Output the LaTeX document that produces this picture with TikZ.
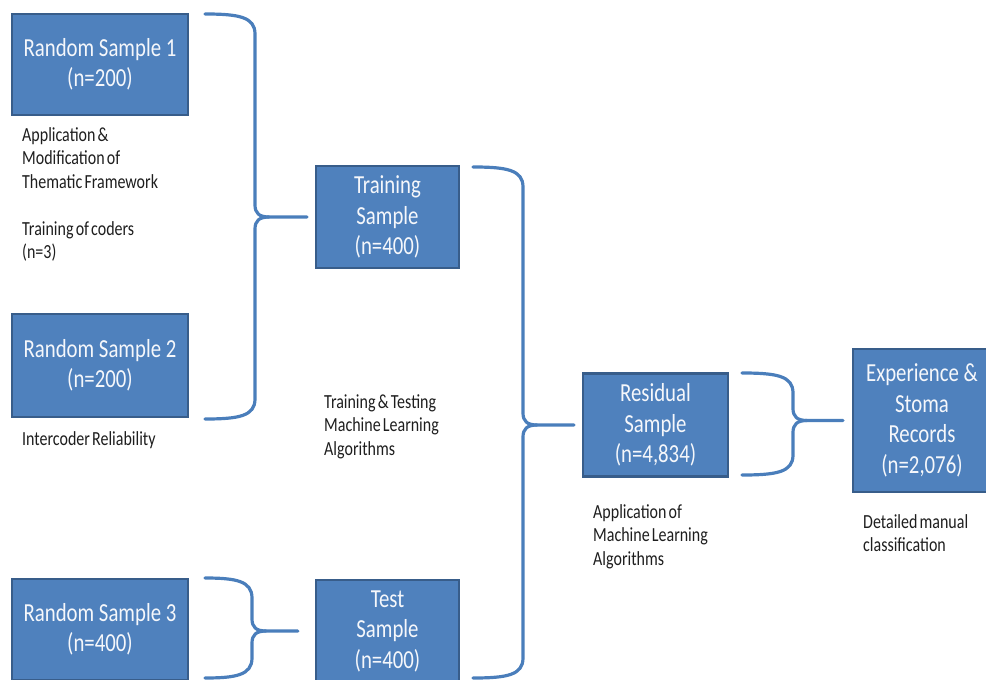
\documentclass[tikz,border=0pt]{standalone}
\usepackage{fontspec}
\setmainfont{Carlito}[FakeStretch=0.8]
\newfontfamily\notefont{Carlito}[FakeStretch=0.8,WordSpace=0.6]
\definecolor{boxfill}{HTML}{4F81BD}
\definecolor{boxedge}{HTML}{385D8A}
\definecolor{bracecol}{HTML}{4A7EBB}
\definecolor{notecol}{HTML}{1E1E1E}
% curly brace: #1 x of the free ends, #2 top y, #3 bottom y,
% #4 x of the spine, #5 y of the point, #6 coordinate the point reaches
\newcommand\curlyjoin[6]{%
  \draw[bracelink] (#1,#2) .. controls (#4-16,#2) and (#4,#2+3) .. (#4,#2+20)
    -- (#4,#5-12) .. controls (#4,#5-4) and (#4+4,#5) .. (#4+14,#5) -- (#6);
  \draw[bracelink] (#4+14,#5) .. controls (#4+4,#5) and (#4,#5+4) .. (#4,#5+12)
    -- (#4,#3-20) .. controls (#4,#3-3) and (#4-16,#3) .. (#1,#3);
}
\begin{document}
\begin{tikzpicture}[x=1pt,y=-1pt,
  sample/.style={draw=boxedge, fill=boxfill, line width=2.2pt,
    text=white!94!boxfill, align=center, inner sep=0pt,
    font=\fontsize{26}{30.5}\selectfont},
  % notes are placed by the baseline of their last line
  note/.style={anchor=base west, align=left, inner sep=0pt, text=notecol,
    font=\notefont\fontsize{20}{23.5}\selectfont},
  bracelink/.style={draw=bracecol, line width=3.2pt, line cap=round, line join=round}]
\useasboundingbox (0,0) rectangle (986,680);
\clip (0,0) rectangle (986,680);

% sample boxes
\node[sample, minimum width=176, minimum height=101] (rs1) at (100,64.5) {Random Sample 1\\(n=200)};
\node[sample, minimum width=176, minimum height=103] (rs2) at (100,365.5) {Random Sample 2\\(n=200)};
\node[sample, minimum width=176, minimum height=101] (rs3) at (100,629.5) {Random Sample 3\\(n=400)};
\node[sample, minimum width=143, minimum height=102] (train) at (387.5,217) {Training\\Sample\\(n=400)};
\node[sample, minimum width=143, minimum height=102] (test) at (387.5,631) {Test\\Sample\\(n=400)};
\node[sample, minimum width=145, minimum height=103] (resid) at (655.5,425) {Residual\\Sample\\(n=4,834)};
\node[sample, minimum width=138, minimum height=143] (exper) at (922,420.5) {Experience \&\\Stoma\\Records\\(n=2,076)};

% notes
\node[note] (n1) at (22,258.5) {Application \&\\Modification of\\Thematic Framework\\[23.5pt]Training of coders\\(n=3)};
\node[note] (n2) at (22,445) {Intercoder Reliability};
\node[note] (n3) at (324,455) {Training \& Testing\\Machine Learning\\Algorithms};
\node[note] (n4) at (593,565) {Application of\\Machine Learning\\Algorithms};
\node[note] (n5) at (863,551.5) {Detailed manual\\classification};

% brace points
\coordinate (tipA) at ([xshift=-8pt]train.west);
\coordinate (tipB) at ([xshift=-8pt]resid.west);
\coordinate (tipC) at ([xshift=-17pt]test.west);
\coordinate (tipD) at ([xshift=-9pt]exper.west);

% braces
\curlyjoin{205}{14}{419}{255}{217}{tipA}
\curlyjoin{473}{167}{678}{523}{425}{tipB}
\curlyjoin{205}{578}{678}{252}{631}{tipC}
\curlyjoin{742}{373}{475}{793}{420.5}{tipD}
\end{tikzpicture}
\end{document}
